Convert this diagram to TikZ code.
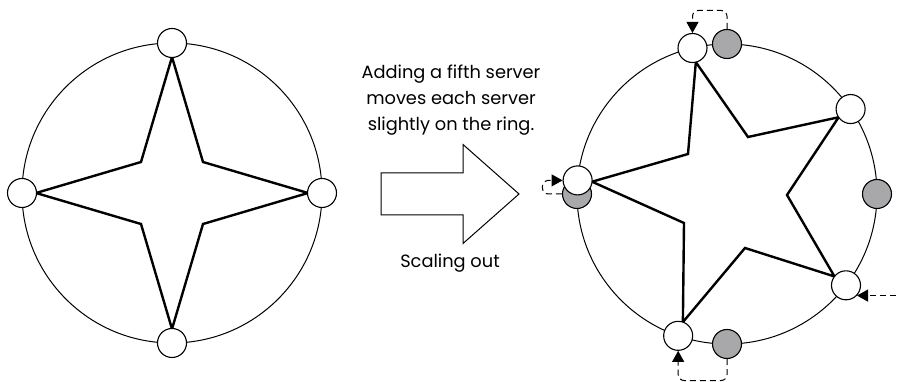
\documentclass[tikz,border=0pt]{standalone}
\usepackage{fontspec}
\setmainfont{Poppins}
\usetikzlibrary{arrows.meta,calc}
\definecolor{srvgrey}{RGB}{168,168,170}
\begin{document}
\begin{tikzpicture}[x=1pt,y=1pt,
  ring/.style={line width=1pt},
  starline/.style={line width=2.4pt, line join=miter},
  srv/.style={circle, draw, line width=1.1pt, fill=white, minimum size=29pt, inner sep=0pt},
  oldsrv/.style={srv, fill=srvgrey},
  move/.style={line width=1pt, dash pattern=on 6pt off 4pt, rounded corners=6pt,
    -{Triangle[length=11pt,width=12pt]}},
  lbl/.style={font=\fontsize{17.8}{26}\selectfont, align=center},
  bigarrow/.style={draw, fill=white, line width=1pt, line join=miter}
]
\useasboundingbox (0,0) rectangle (898,382);

% ---------- left ring: four servers ----------
\coordinate (L) at (172,189);
\draw[ring] (L) circle (150);
\coordinate (lt1) at ($(L)+(90:136)$);
\coordinate (lt2) at ($(L)+(0:136)$);
\coordinate (lt3) at ($(L)+(270:136)$);
\coordinate (lt4) at ($(L)+(180:136)$);
\coordinate (li1) at ($(L)+(31,31)$);
\coordinate (li2) at ($(L)+(31,-31)$);
\coordinate (li3) at ($(L)+(-31,-31)$);
\coordinate (li4) at ($(L)+(-31,31)$);
\draw[starline] (lt1) -- (li1) -- (lt2) -- (li2) -- (lt3) -- (li3) -- (lt4) -- (li4) -- cycle;
\node[srv] (a1) at ($(L)+(90:150)$) {};
\node[srv] (a2) at ($(L)+(0:150)$) {};
\node[srv] (a3) at ($(L)+(270:150)$) {};
\node[srv] (a4) at ($(L)+(180:150)$) {};

% ---------- middle: arrow and texts ----------
\node[lbl] (cap) at (451,282) {Adding a fifth server\\moves each server\\slightly on the ring.};
\draw[bigarrow] (381,209) -- (463,209) -- (463,237.5) -- (519,188) -- (463,138.5) -- (463,167) -- (381,167) -- cycle;
\node[lbl] (sub) at (450,119) {Scaling out};

% ---------- right ring: five servers ----------
\coordinate (R) at (727,188);
\draw[ring] (R) circle (150);
\coordinate (rt1) at ($(R)+(103.3:135.5)$);
\coordinate (rt2) at ($(R)+(34.5:135.5)$);
\coordinate (rt5) at ($(R)+(322.5:135.5)$);
\coordinate (rt3) at ($(R)+(251:135.5)$);
\coordinate (rt4) at ($(R)+(174.8:135.5)$);
\coordinate (ri12) at ($(R)+(21,57)$);
\coordinate (ri25) at ($(R)+(60,-1)$);
\coordinate (ri53) at ($(R)+(18,-54)$);
\coordinate (ri34) at ($(R)+(-43,-29)$);
\coordinate (ri41) at ($(R)+(-39,40)$);
\draw[starline] (rt1) -- (ri12) -- (rt2) -- (ri25) -- (rt5) -- (ri53) -- (rt3) -- (ri34) -- (rt4) -- (ri41) -- cycle;

\node[oldsrv] (g1) at ($(R)+(90:150)$) {};
\node[oldsrv] (g2) at ($(R)+(0:150)$) {};
\node[oldsrv] (g3) at ($(R)+(270:150)$) {};
\node[oldsrv] (g4) at ($(R)+(180:150)$) {};

\node[srv] (w1) at ($(R)+(103.3:150)$) {};
\node[srv] (w2) at ($(R)+(34.5:150)$) {};
\node[srv] (w5) at ($(R)+(322.5:150)$) {};
\node[srv] (w3) at ($(R)+(251:150)$) {};
\node[srv] (w4) at ($(R)+(174.8:150)$) {};

% ---------- movement arrows ----------
\draw[move] (g1.north) -- ++(0,18.5) -| (w1.north);
\draw[move] (g3.south) -- ++(0,-21.5) -| (w3.south);
\draw[move] (g4.west) -- ++(-19.5,0) |- (w4.west);
\coordinate (in5) at ($(w5.-43.6)+(39,0)$);
\draw[move] (in5) -- (w5.-43.6);
\end{tikzpicture}
\end{document}
